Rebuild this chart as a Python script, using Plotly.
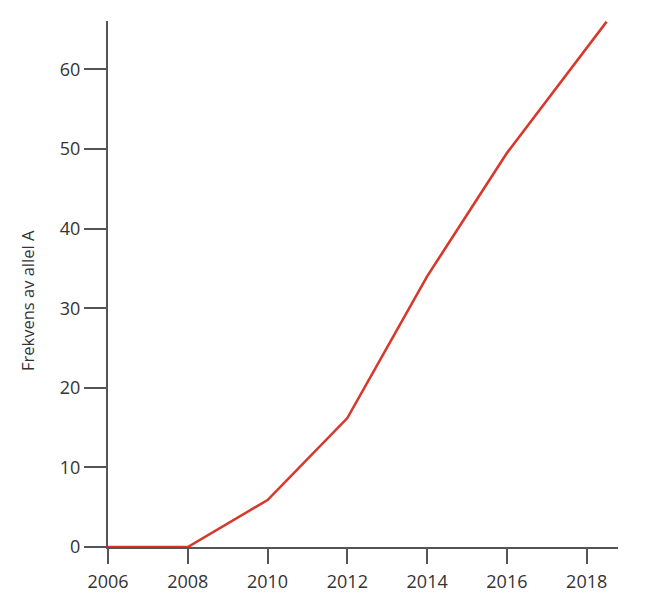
import plotly.graph_objects as go

# data
years = [2006, 2008, 2010, 2012, 2014, 2016, 2018.5]
freq_allel_a = [0, 0, 5.9, 16.2, 34.0, 49.5, 66.0]

x_ticks = [2006, 2008, 2010, 2012, 2014, 2016, 2018]
y_ticks = [0, 10, 20, 30, 40, 50, 60]

axis_color = "#555555"
text_color = "#333333"
font_family = "Open Sans, DejaVu Sans, sans-serif"

fig = go.Figure()
fig.add_trace(go.Scatter(
    x=years, y=freq_allel_a, mode="lines",
    line=dict(color="#d8382c", width=2.6),
    hoverinfo="skip", showlegend=False, cliponaxis=False,
))

fig.update_xaxes(
    range=[2006, 2018.785], tickvals=x_ticks, ticktext=[str(t) for t in x_ticks],
    showline=True, linecolor=axis_color, linewidth=2,
    ticks="outside", ticklen=15, tickwidth=2, tickcolor=axis_color,
    showgrid=False, zeroline=False, ticklabelstandoff=2,
    tickfont=dict(family=font_family, size=18, color=text_color),
)
fig.update_yaxes(
    range=[0, 66.08], tickvals=y_ticks,
    showline=True, linecolor=axis_color, linewidth=2,
    ticks="outside", ticklen=22, tickwidth=2, tickcolor=axis_color,
    showgrid=False, zeroline=False,
    tickfont=dict(family=font_family, size=18, color=text_color),
)

# y-axis title placed as annotation to match the reference position
fig.add_annotation(
    text="Frekvens av allel A", xref="paper", yref="paper",
    x=-0.1575, y=0.469, xanchor="center", yanchor="middle",
    textangle=-90, showarrow=False,
    font=dict(family=font_family, size=16.5, color=text_color),
)

# the page body adds an 8px offset, so margins are shifted to compensate
fig.update_layout(
    width=648, height=612,
    margin=dict(l=100.3, r=38, t=12.7, b=73.3),
    paper_bgcolor="white", plot_bgcolor="white",
)

fig.write_html("out.html")
